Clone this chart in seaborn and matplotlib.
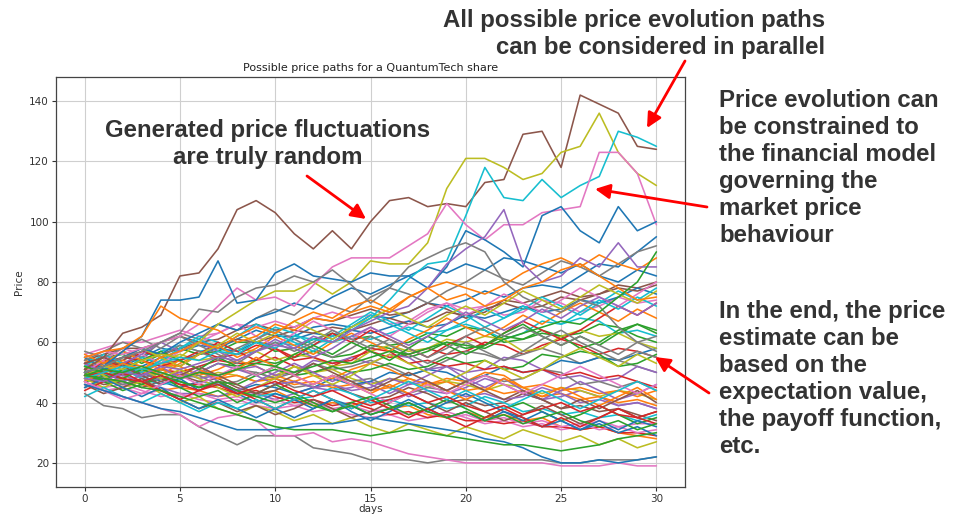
import numpy as np
import pandas as pd
import matplotlib
matplotlib.use("Agg")
import matplotlib.pyplot as plt
import seaborn as sns

# ---------------- data ----------------
days = list(range(31))

brown_top = [53,55,63,65,69,82,83,91,104,107,103,96,91,97,91,100,107,108,105,106,105,113,114,129,130,118,142,139,136,125,124]
olive_top = [50,52,51,54,56,55,60,66,70,74,77,77,80,76,80,87,86,86,93,111,121,121,118,114,116,123,125,136,123,116,112]
cyan_top = [48,50,52,51,53,55,54,57,56,60,58,62,61,60,64,68,74,81,86,87,102,118,108,107,114,108,112,115,130,128,125]
pink_top = [55,57,56,58,60,62,66,72,78,74,75,72,79,85,88,88,88,92,96,106,99,94,99,99,103,104,105,123,123,116,99]
blue_top = [50,52,57,62,74,74,75,87,73,74,83,86,82,81,80,83,82,82,78,85,97,94,90,85,102,105,97,93,105,97,100]
purple_spike = [48,47,50,49,52,51,53,55,54,57,59,58,62,60,64,67,70,72,78,86,91,95,104,86,80,82,88,85,93,85,85]
gray_upper = [50,52,55,57,60,63,71,70,75,78,79,82,80,84,79,73,78,85,88,91,93,90,80,75,72,70,74,72,65,60,62]
orange_upper = [55,57,58,62,72,68,66,64,60,62,66,64,68,67,70,72,70,75,78,74,76,72,74,78,80,84,86,82,78,74,75]
green_rise = [49,51,50,52,50,48,50,49,51,53,52,50,52,54,53,55,57,56,58,60,59,58,61,63,65,67,66,70,75,80,90]
gray_bottom = [43,39,38,35,36,36,32,29,26,29,29,29,25,24,23,21,21,21,20,21,21,21,21,21,21,20,20,21,21,21,22]
pink_bottom = [47,44,42,40,38,36,32,35,36,34,29,29,30,27,28,27,25,23,22,21,20,20,20,20,20,19,19,19,20,19,19]
blue_bottom = [46,44,42,40,38,37,35,33,31,31,31,32,33,33,34,35,34,33,32,31,30,28,27,25,22,20,20,21,20,21,22]
green_bottom = [49,48,47,45,44,42,40,38,36,34,32,31,31,31,30,29,30,31,30,29,28,27,26,26,25,24,25,26,28,29,30]

bundle = [
    [51,53,52,55,58,57,59,58,61,64,62,62,65,66,65,69,68,70,73,72,74,77,75,78,79,78,82,86,85,90,95],
    [49,47,48,46,44,45,44,42,43,42,44,41,39,40,39,41,38,39,36,35,37,35,36,34,35,32,31,32,30,29,28],
    [53,55,56,53,56,58,56,57,60,60,57,58,61,63,61,62,59,60,63,62,65,64,60,61,64,62,63,66,65,62,60],
    [47,49,50,49,51,50,52,54,53,53,55,52,50,52,55,57,55,56,58,56,57,60,59,56,59,61,59,56,58,57,55],
    [50,48,46,47,45,43,43,42,44,43,41,43,45,44,45,47,45,42,44,43,45,48,46,43,41,42,44,42,39,40,38],
    [54,56,58,58,60,62,60,61,64,66,64,65,68,67,69,71,69,70,73,71,68,70,74,73,75,77,75,76,79,78,80],
    [46,45,46,44,42,43,41,40,41,39,38,39,37,38,36,35,36,34,35,37,35,33,34,32,33,31,32,34,32,33,33],
    [52,51,53,55,53,54,51,49,51,50,48,50,53,51,52,54,52,49,51,54,57,56,54,56,58,56,53,55,54,52,50],
    [48,50,49,51,53,51,48,50,49,47,49,52,50,51,48,46,48,47,45,47,46,44,46,45,43,45,44,42,44,43,41],
    [55,53,55,54,57,59,57,58,56,57,60,59,61,60,62,61,63,65,63,64,66,64,61,63,67,66,68,67,63,64,62],
    [49,51,49,50,47,45,47,46,44,46,45,43,45,48,46,47,50,49,51,50,47,49,52,50,51,54,53,55,54,56,58],
    [51,49,51,50,53,52,49,51,54,52,49,47,49,48,51,53,51,48,46,48,47,50,49,45,46,44,45,43,44,42,44],
    [47,48,47,49,51,49,50,53,52,54,53,55,57,55,56,59,58,55,57,60,58,59,62,61,63,62,58,60,64,66,63],
    [53,51,49,50,48,46,46,45,43,44,42,40,41,39,40,38,36,37,35,36,34,34,33,34,32,32,31,32,30,30,29],
    [50,52,51,49,50,48,50,53,51,52,49,50,54,53,55,53,56,55,51,52,50,51,55,54,51,48,49,47,48,52,50],
    [48,46,47,45,47,49,47,48,45,43,44,47,45,46,43,41,42,45,43,40,41,39,40,43,41,38,39,37,38,36,34],
    [56,58,60,60,62,64,62,63,66,65,67,65,68,70,68,69,66,67,71,73,71,72,69,70,74,73,70,72,75,73,74],
    [45,47,46,48,50,48,49,46,47,50,48,45,46,49,47,48,45,43,45,44,47,49,47,48,51,50,46,47,45,47,44],
    [52,54,53,51,54,56,54,55,58,57,54,56,55,52,53,57,59,57,58,61,60,62,61,57,58,62,64,62,63,60,58],
    [50,49,51,48,46,47,45,46,44,42,43,41,42,45,43,40,41,39,40,38,39,42,40,37,38,36,37,35,36,34,36],
    [49,51,53,52,55,54,56,58,57,60,59,61,63,62,64,63,65,67,65,66,69,68,70,72,70,71,74,73,75,78,76],
    [54,52,53,50,51,49,50,48,49,47,48,46,47,45,46,44,45,48,46,47,44,45,43,44,42,43,41,42,40,41,39],
    [47,49,48,46,48,47,45,47,46,49,51,49,50,52,50,51,53,51,52,55,53,54,51,52,56,55,57,56,52,53,56],
    [51,53,55,54,52,54,57,55,56,59,58,54,55,53,54,58,57,53,54,52,53,51,52,50,51,49,50,48,49,47,45],
    [50,48,49,47,48,50,48,49,51,49,46,47,45,46,44,45,48,46,47,44,42,43,41,42,45,43,40,41,39,40,38],
    [53,55,54,57,56,58,60,59,61,60,62,64,63,65,64,66,68,66,67,70,69,71,73,71,72,75,74,76,78,77,79],
    [46,44,45,43,44,42,43,41,42,40,41,39,40,38,39,37,38,36,37,35,36,34,35,33,34,32,33,31,32,30,31],
    [50,53,57,55,60,63,61,66,64,68,71,69,74,72,70,75,78,76,73,77,80,84,81,79,83,87,85,82,86,90,92],
    [52,49,45,47,43,40,42,38,36,39,37,34,36,33,35,32,30,33,31,29,32,30,28,31,29,27,29,26,28,25,27],
    [48,52,50,55,53,58,62,60,57,61,65,63,59,62,66,70,67,64,68,72,69,65,68,71,75,72,69,73,77,74,78],
    [55,51,53,49,46,48,44,47,43,40,43,41,38,41,39,36,38,41,38,35,37,34,37,35,32,34,31,33,30,32,29],
    [47,50,54,52,49,53,56,59,55,58,62,59,56,60,63,60,57,61,64,68,65,62,65,69,66,70,73,70,67,71,68],
    [51,47,44,46,49,45,42,44,40,43,46,43,40,37,40,42,39,36,38,41,38,35,38,40,37,34,36,39,36,33,35],
    [49,54,52,57,55,52,56,60,57,54,58,55,59,63,60,64,61,58,55,59,62,59,63,67,64,61,64,68,72,69,73],
    [53,50,47,49,52,48,51,47,44,47,50,53,50,47,50,46,43,46,49,52,48,45,48,44,41,44,47,44,41,43,46],
    [46,43,45,48,44,41,38,40,37,39,36,38,41,38,35,37,40,43,40,37,40,37,34,36,39,36,33,35,38,35,37],
    [50,54,58,56,53,57,60,63,66,62,59,63,67,64,61,65,62,66,70,73,69,72,76,73,70,74,78,75,72,76,80],
    [54,57,60,58,55,59,57,54,58,61,64,61,58,55,58,62,59,56,53,56,60,57,54,57,61,64,60,57,54,57,55],
    [48,45,48,51,48,51,48,45,42,45,48,52,49,46,49,53,56,53,50,47,50,54,51,48,51,55,58,55,52,56,53],
    [52,56,53,50,54,58,61,58,62,66,63,60,57,61,65,69,66,63,60,64,67,71,68,72,69,66,70,74,71,75,72],
    [45,48,45,42,45,41,38,41,38,35,38,35,38,41,37,34,37,40,37,40,43,40,37,34,37,34,31,34,31,34,32],
    [56,53,57,54,51,54,51,48,51,55,52,49,46,49,46,43,46,43,47,44,41,44,48,45,42,45,42,39,42,45,41],
    [50,47,51,54,57,54,51,55,52,49,52,56,59,56,60,57,54,58,62,59,56,59,63,66,62,59,62,59,63,66,64],
    [44,47,50,47,44,41,44,47,44,41,38,41,44,41,38,41,38,35,38,35,32,35,38,35,32,35,32,35,38,35,33],
    [53,50,53,56,60,57,60,57,54,57,61,58,55,58,62,65,62,59,62,66,70,67,64,67,71,68,72,75,72,69,73],
    [51,55,52,49,46,49,52,49,46,43,46,49,53,50,47,44,47,50,47,44,47,44,41,44,41,38,41,38,41,44,40],
    [47,44,41,43,46,49,46,49,52,49,52,49,46,49,46,43,40,43,46,43,46,49,46,43,46,49,52,49,46,43,46],
    [57,55,58,61,58,62,59,56,53,57,60,57,60,64,61,58,61,58,55,58,62,65,62,65,62,59,62,59,56,60,57],
    [49,52,55,58,55,52,56,59,63,60,63,67,64,61,65,68,71,68,65,69,72,69,73,77,74,71,75,79,76,73,77],
    [42,45,42,40,43,40,37,40,38,41,38,41,44,41,38,41,44,47,44,41,44,41,38,41,44,41,38,41,44,47,44],
    [50,52,55,58,56,60,63,66,64,68,70,73,71,75,78,76,79,82,85,83,86,84,88,87,85,83,86,82,80,84,82],
    [48,50,53,51,55,57,60,58,62,65,63,67,70,68,72,74,71,75,78,80,78,76,79,83,86,88,85,89,86,84,88],
    [52,50,48,51,49,47,45,47,44,42,40,42,39,37,39,36,38,40,37,35,37,34,36,33,35,37,34,32,34,31,33],
    [49,50,48,47,49,46,44,46,43,45,47,44,42,44,41,39,41,43,40,42,39,37,39,36,38,40,37,39,36,35,37],
]

traced = [brown_top, olive_top, cyan_top, pink_top, blue_top, purple_spike,
          gray_upper, orange_upper, green_rise, gray_bottom, pink_bottom,
          blue_bottom, green_bottom]

# ---------------- styles ----------------
tab10 = sns.color_palette("tab10")
traced_colors = [tab10[5], tab10[8], tab10[9], tab10[6], tab10[0], tab10[4],
                 tab10[7], tab10[1], tab10[2], tab10[7], tab10[6],
                 tab10[0], tab10[2]]
bundle_colors = [tab10[i % 10] for i in range(len(bundle))]

all_paths = bundle + traced
all_colors = bundle_colors + traced_colors

rows = []
for pid, path in enumerate(all_paths):
    for d, v in zip(days, path):
        rows.append((pid, d, v))
df = pd.DataFrame(rows, columns=["path", "days", "Price"])

sns.set_theme(style="ticks")
plt.rcParams["font.family"] = ["DejaVu Sans"]

fig = plt.figure(figsize=(9.64, 5.15), dpi=100)
ax = fig.add_axes([56/964, 28/515, (685-56)/964, (487-77)/515])

sns.lineplot(data=df, x="days", y="Price", hue="path", palette=all_colors,
             legend=False, errorbar=None, estimator=None, linewidth=1.15,
             ax=ax)

ax.set_xlim(-1.5, 31.5)
ax.set_ylim(12, 148)
ax.set_xticks([0, 5, 10, 15, 20, 25, 30])
ax.set_yticks([20, 40, 60, 80, 100, 120, 140])
ax.grid(True, color="#cfcfcf", linewidth=0.8)
ax.set_axisbelow(True)
for s in ax.spines.values():
    s.set_color("#444444")
    s.set_linewidth(0.9)
ax.tick_params(labelsize=7.5, colors="#333333", length=3, width=0.8, pad=2)
ax.set_title("Possible price paths for a QuantumTech share", fontsize=8,
             color="#222222", pad=4)
ax.set_xlabel("days", fontsize=7.5, color="#333333", labelpad=0)
ax.set_ylabel("Price", fontsize=7.5, color="#333333", labelpad=4)

# ---------------- annotations ----------------
W, H = 964, 515
tkw = dict(fontsize=17.3, fontweight="bold", color="#333333",
           family=["Liberation Sans", "DejaVu Sans"], linespacing=1.22,
           va="top")

fig.text(268/W, 1-119/H, "Generated price fluctuations\nare truly random",
         ha="center", multialignment="center", **tkw)
fig.text(825/W, 1-9/H, "All possible price evolution paths\ncan be considered in parallel",
         ha="right", multialignment="right", **tkw)
fig.text(719/W, 1-89/H,
         "Price evolution can\nbe constrained to\nthe financial model\ngoverning the\nmarket price\nbehaviour",
         ha="left", **tkw)
fig.text(719/W, 1-300/H,
         "In the end, the price\nestimate can be\nbased on the\nexpectation value,\nthe payoff function,\netc.",
         ha="left", **tkw)

arrows = [((307, 176), (366, 219)),
          ((685, 61), (647, 128)),
          ((707, 207), (595, 189)),
          ((709, 393), (655, 357))]
for (x1, y1), (x2, y2) in arrows:
    ax.annotate("", xy=(x2, H - y2), xytext=(x1, H - y1),
                xycoords="figure pixels", textcoords="figure pixels",
                arrowprops=dict(arrowstyle="-|>", color="red", lw=2.0,
                                mutation_scale=22, shrinkA=0, shrinkB=0),
                annotation_clip=False)

fig.savefig("out.png", dpi=100)
